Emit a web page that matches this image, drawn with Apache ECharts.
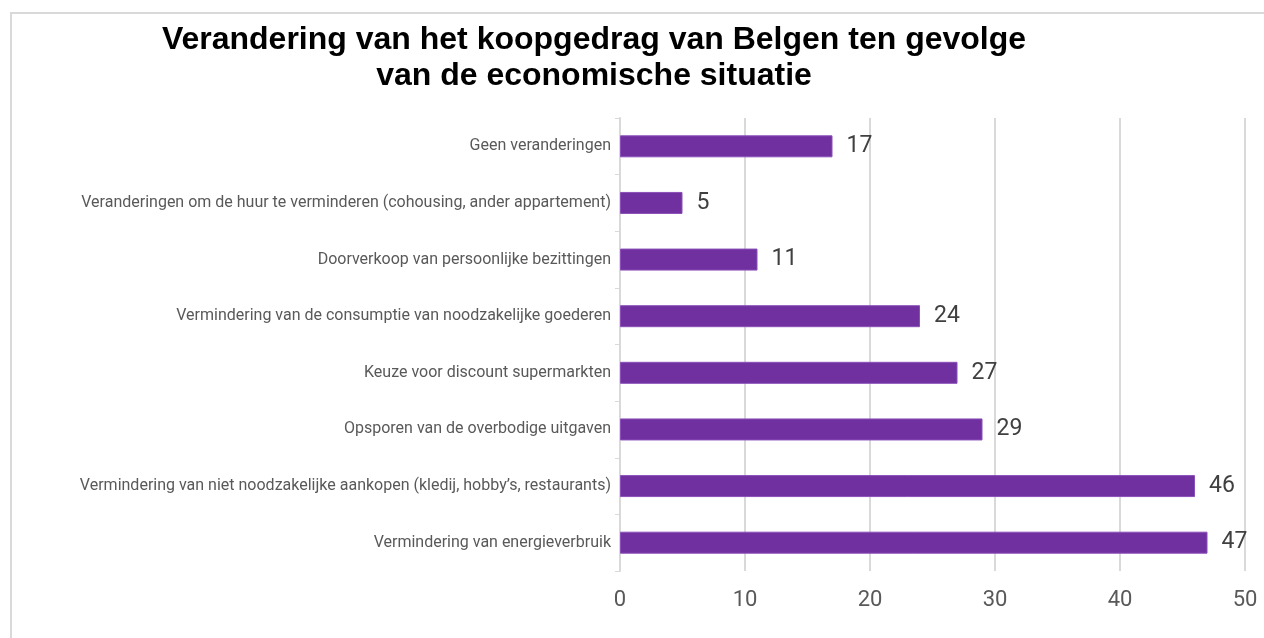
<!DOCTYPE html>
<html><head><meta charset="utf-8">
<script src="https://cdn.jsdelivr.net/npm/echarts@6/dist/echarts.min.js"></script>
<style>html,body{margin:0;padding:0;background:#fff}#c{width:1264px;height:638px}</style>
</head><body><div id="c"></div>
<script>
const titleText = 'Verandering van het koopgedrag van Belgen ten gevolge\nvan de economische situatie';
// top to bottom as in the picture
const categories = [
  'Geen veranderingen',
  'Veranderingen om de huur te verminderen (cohousing, ander appartement)',
  'Doorverkoop van persoonlijke bezittingen',
  'Vermindering van de consumptie van noodzakelijke goederen',
  'Keuze voor discount supermarkten',
  'Opsporen van de overbodige uitgaven',
  'Vermindering van niet noodzakelijke aankopen (kledij, hobby\u2019s, restaurants)',
  'Vermindering van energieverbruik'
];
const values = [17, 5, 11, 24, 27, 29, 46, 47];
const xTicks = [0, 10, 20, 30, 40, 50];

const chart = echarts.init(document.getElementById('c'), null, {renderer: 'canvas'});
chart.setOption({
  animation: false,
  backgroundColor: '#fff',
  graphic: [{
    type: 'rect', z: -10,
    shape: {x: 11, y: 13, width: 1400, height: 800},
    style: {fill: 'none', stroke: '#d9d9d9', lineWidth: 2}
  }],
  title: {
    text: titleText,
    left: 589, top: 17, textAlign: 'center',
    textStyle: {fontFamily: 'Liberation Sans, Arial', fontWeight: 'bold', fontSize: 32, color: '#000', lineHeight: 36}
  },
  grid: {left: 620, top: 118, width: 625, height: 453, containLabel: false},
  xAxis: {
    type: 'value', min: xTicks[0], max: xTicks[xTicks.length - 1], interval: 10,
    axisLine: {show: false}, axisTick: {show: false},
    splitLine: {show: true, lineStyle: {color: '#d9d9d9', width: 2}},
    axisLabel: {margin: 18, fontFamily: 'Roboto', fontSize: 22, color: '#595959'}
  },
  yAxis: {
    type: 'category', inverse: true, data: categories,
    axisLine: {show: true, lineStyle: {color: '#d9d9d9', width: 2}},
    axisTick: {show: true, length: 5, lineStyle: {color: '#d9d9d9'}},
    axisLabel: {margin: 9, fontFamily: 'Roboto', fontSize: 16, color: '#595959'}
  },
  series: [{
    type: 'bar', data: values, barWidth: 22,
    itemStyle: {color: '#7030A0', borderColor: '#8a4fb8', borderWidth: 1},
    label: {show: true, position: 'right', distance: 14, fontFamily: 'Roboto', fontSize: 23, color: '#404040'}
  }]
});
</script></body></html>
